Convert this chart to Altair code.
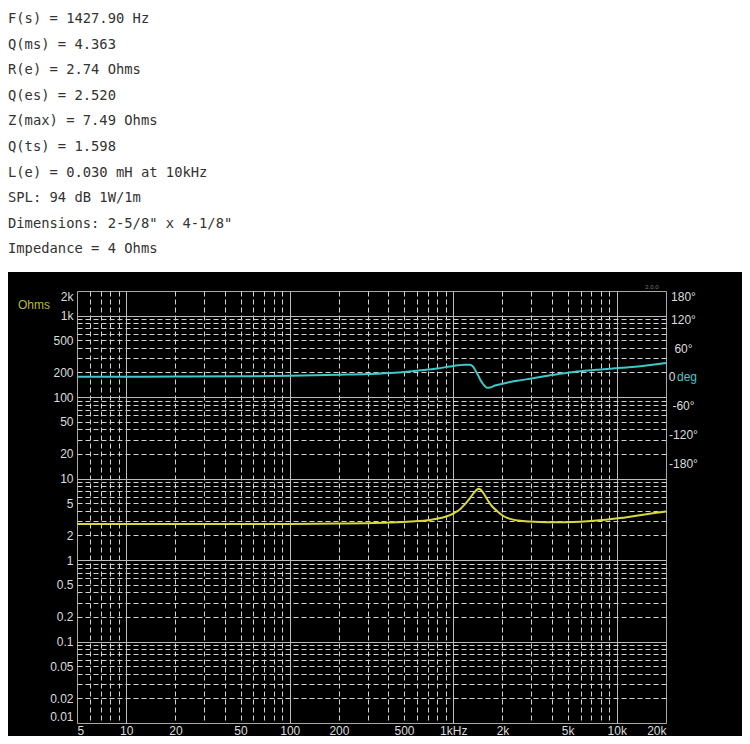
import altair as alt
import pandas as pd

# ---------------- data ----------------
TEXT_LINES = [
    "F(s) = 1427.90 Hz",
    "Q(ms) = 4.363",
    "R(e) = 2.74 Ohms",
    "Q(es) = 2.520",
    "Z(max) = 7.49 Ohms",
    "Q(ts) = 1.598",
    "L(e) = 0.030 mH at 10kHz",
    "SPL: 94 dB 1W/1m",
    'Dimensions: 2-5/8" x 4-1/8"',
    "Impedance = 4 Ohms",
]

IMP_FREQ = [5, 10, 20, 50, 100, 200, 300, 410, 550, 721, 850, 955, 1030, 1100,
            1180, 1266, 1340, 1390, 1428, 1470, 1530, 1608, 1720, 1851, 1931,
            2050, 2223, 2500, 2944, 3400, 3904, 4800, 5957, 7500, 9088, 11500,
            13865, 17000, 20000]
IMP_OHMS = [2.76, 2.76, 2.76, 2.76, 2.77, 2.80, 2.83, 2.88, 2.96, 3.10, 3.30,
            3.55, 3.85, 4.20, 4.85, 5.75, 6.70, 7.25, 7.49, 7.30, 6.60, 5.60,
            4.60, 4.00, 3.72, 3.42, 3.20, 3.05, 2.96, 2.92, 2.90, 2.91, 2.95,
            3.05, 3.17, 3.35, 3.55, 3.77, 3.95]

PH_FREQ = [5, 10, 20, 50, 100, 203, 297, 440, 626, 800, 955, 1080, 1180, 1260,
           1302, 1340, 1380, 1417, 1460, 1510, 1563, 1608, 1680, 1800, 2000,
           2223, 2600, 2944, 3400, 3904, 4800, 5957, 7500, 9088, 11500, 13865,
           17000, 20000]
PH_DEG = [0.5, 0.5, 1.0, 1.5, 2.5, 4.8, 6.3, 9.0, 14.0, 18.0, 22.0, 24.5, 25.7,
          25.5, 24.0, 19.0, 11.0, 4.0, -5.0, -13.0, -19.5, -22.4, -22.0, -17.8,
          -14.0, -10.5, -6.5, -3.6, 0.0, 3.6, 8.0, 12.0, 15.0, 17.4, 20.0, 22.4,
          26.0, 29.3]

X_LABELS = [(5, "5"), (10, "10"), (20, "20"), (50, "50"), (100, "100"),
            (200, "200"), (500, "500"), (1000, "1kHz"), (2000, "2k"),
            (5000, "5k"), (10000, "10k"), (20000, "20k")]
Y_LABELS = [(0.01, "0.01"), (0.02, "0.02"), (0.05, "0.05"), (0.1, "0.1"),
            (0.2, "0.2"), (0.5, "0.5"), (1, "1"), (2, "2"), (5, "5"),
            (10, "10"), (20, "20"), (50, "50"), (100, "100"), (200, "200"),
            (500, "500"), (1000, "1k"), (2000, "2k")]
PHASE_TICKS = [-180, -120, -60, 0, 60, 120, 180]

X_TICKS = [5, 6, 7, 8, 9] + [m * 10 ** e for e in range(1, 4) for m in range(1, 10)] + [10000, 20000]
Y_TICKS = [round(m * 10.0 ** e, 6) for e in range(-2, 3) for m in range(1, 10)] + [1000, 2000]

# ---------------- styling ----------------
W, H = 589, 432
LABEL_COLOR = "#dcdcdc"
CYAN = "#3ec8c8"
YELLOW = "#d8d83a"


def label_expr(pairs):
    parts = [f"abs(datum.value - {v}) < {v * 1e-6} ? '{s}'" for v, s in pairs]
    return " : ".join(parts) + " : ''"


DECADE = "abs(log(datum.value)/LN10 - round(log(datum.value)/LN10)) < 0.001"
grid_dash = {"condition": {"test": DECADE, "value": []}, "value": [5, 3]}
grid_color = {"condition": {"test": DECADE, "value": "#bcbcbc"}, "value": "#d2d2d2"}

x_axis = alt.Axis(
    values=X_TICKS, labelExpr=label_expr(X_LABELS), grid=True,
    gridDash=grid_dash, gridColor=grid_color,
    gridOpacity={"condition": {"test": "datum.value < 5.01 || datum.value > 19990", "value": 0}, "value": 1},
    ticks=False, domain=False, labelColor=LABEL_COLOR, labelFont="Liberation Sans",
    labelFontSize=12, labelPadding=2, labelOverlap=False, title=None,
)
y_axis = alt.Axis(
    values=Y_TICKS, labelExpr=label_expr(Y_LABELS), grid=True,
    gridDash=grid_dash, gridColor=grid_color,
    gridOpacity={"condition": {"test": "datum.value < 0.0101 || datum.value > 1990", "value": 0}, "value": 1},
    ticks=False, domain=False, labelColor=LABEL_COLOR, labelFont="Liberation Sans",
    labelFontSize=12, labelPadding=4, labelOverlap=False, labelFlush=True, title=None,
)
p_axis = alt.Axis(
    orient="right", values=PHASE_TICKS,
    labelExpr="datum.value == 0 ? '' : datum.value + '°'",
    grid=False, ticks=False, domain=False, labelColor=LABEL_COLOR,
    labelFont="Liberation Sans", labelFontSize=12, labelAlign="center",
    labelPadding=17, labelFlush=True, labelOverlap=False, title=None,
)

x_scale = alt.Scale(type="log", domain=[5, 20000], nice=False)
y_scale = alt.Scale(type="log", domain=[0.01, 2000], nice=False)
p_scale = alt.Scale(type="linear", domain=[-724, 180], nice=False, zero=False)

imp_df = pd.DataFrame({"f": IMP_FREQ, "z": IMP_OHMS})
ph_df = pd.DataFrame({"f": PH_FREQ, "deg": PH_DEG})
text_df = pd.DataFrame({"txt": ["\n".join(TEXT_LINES)]})
one = pd.DataFrame({"a": [0]})

white_top = alt.Chart(one).mark_rect(color="white").encode(
    x=alt.value(-69), x2=alt.value(665), y=alt.value(-283), y2=alt.value(-19)
)
text_block = alt.Chart(text_df).mark_text(
    align="left", baseline="middle", lineBreak="\n", lineHeight=25.6,
    font="DejaVu Sans Mono, monospace", fontSize=13.8,
    color="#333333",
).encode(x=alt.value(-69), y=alt.value(-272), text="txt:N")

ohms_txt = alt.Chart(one).mark_text(
    align="center", baseline="middle", font="Liberation Sans", fontSize=12,
    color="#b8b83c",
).encode(x=alt.value(-43), y=alt.value(14), text=alt.value("Ohms"))

ver_txt = alt.Chart(one).mark_text(
    align="center", baseline="middle", font="Liberation Sans", fontSize=6,
    color="#7a7a7a",
).encode(x=alt.value(575), y=alt.value(-4), text=alt.value("2.0.0"))

imp_line = alt.Chart(imp_df).mark_line(
    color=YELLOW, strokeWidth=2, interpolate="monotone"
).encode(
    x=alt.X("f:Q", scale=x_scale, axis=x_axis),
    y=alt.Y("z:Q", scale=y_scale, axis=y_axis),
)

ph_line = alt.Chart(ph_df).mark_line(
    color=CYAN, strokeWidth=2, interpolate="monotone"
).encode(
    x=alt.X("f:Q", scale=x_scale, axis=x_axis),
    y=alt.Y("deg:Q", scale=p_scale, axis=p_axis),
)
zero_txt = alt.Chart(one).mark_text(
    align="center", baseline="middle", font="Liberation Sans", fontSize=12,
    color=LABEL_COLOR,
).encode(x=alt.value(595), y=alt.Y(datum=0, scale=p_scale, axis=p_axis), text=alt.value("0"))
deg_txt = alt.Chart(one).mark_text(
    align="left", baseline="middle", font="Liberation Sans", fontSize=12,
    color=CYAN,
).encode(x=alt.value(600), y=alt.Y(datum=0, scale=p_scale, axis=p_axis), text=alt.value("deg"))

phase = alt.layer(ph_line, zero_txt, deg_txt)

chart = alt.layer(
    white_top, text_block, ohms_txt, ver_txt, imp_line, phase
).resolve_scale(y="independent").properties(
    width=W, height=H,
    autosize=alt.AutoSizeParams(type="none"),
    padding={"left": 69, "top": 283, "right": 76, "bottom": 13},
).configure(background="#000000").configure_view(stroke="#a8a8a8", strokeWidth=1)

chart.save("out.html", embed_options={"renderer": "svg", "actions": False})
